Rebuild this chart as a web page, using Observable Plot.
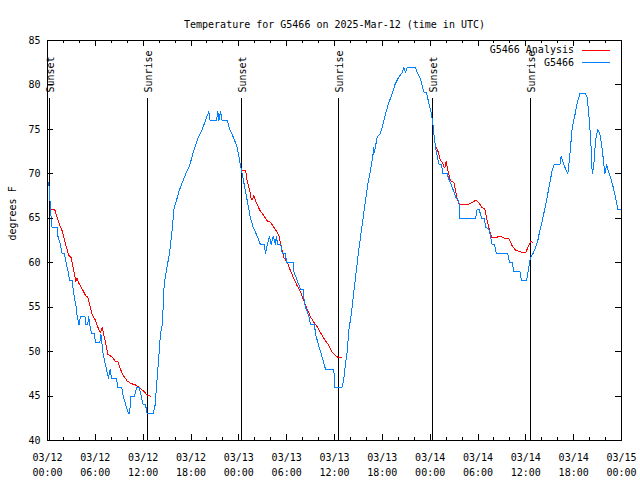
<!DOCTYPE html>
<html>
<head>
<meta charset="utf-8">
<script src="https://cdn.jsdelivr.net/npm/d3@7"></script>
<script src="https://cdn.jsdelivr.net/npm/@observablehq/plot@0.6"></script>
<style>
  html, body { margin: 0; padding: 0; background: #fff; }
  svg { display: block; }
</style>
</head>
<body>
<div id="chart"></div>
<script>
// ---------- data (hours after 2025-03-12 00:00 UTC) ----------
const titleText = "Temperature for G5466 on 2025-Mar-12 (time in UTC)";
const yLabel = "degrees F";
const seriesNames = ["G5466 Analysis", "G5466"];
const seriesColors = ["#ff0000", "#0080ff"];

const blueHours = [0.15,0.25,0.38,0.55,1.21,1.3,1.63,1.84,2.13,2.34,2.59,2.76,3.09,3.22,3.39,3.6,3.72,3.95,4.15,4.7,4.8,5.05,5.15,5.3,5.55,5.9,6.0,6.56,6.7,6.94,7.15,7.4,7.65,7.85,8.05,8.66,8.82,9.3,9.5,9.82,10.15,10.3,10.45,10.9,11.2,11.5,11.75,12.0,12.3,12.5,13.26,13.5,13.67,13.84,14.01,14.17,14.38,14.51,14.59,14.72,14.89,15.09,15.3,15.43,15.55,15.68,15.84,16.18,16.47,16.9,17.35,17.85,18.15,18.48,18.86,19.4,19.82,20.23,20.4,21.2,21.37,21.5,21.7,21.9,22.54,22.87,23.37,23.79,24.0,24.2,24.42,24.63,24.84,25.05,25.26,25.46,25.8,26.3,26.72,27.2,27.35,27.56,27.85,28.06,28.31,28.6,28.69,28.89,29.31,29.44,29.85,29.98,30.82,30.9,31.32,31.74,32.07,32.16,32.36,32.78,32.99,33.49,33.62,33.91,34.24,34.58,34.87,35.91,36.04,36.96,37.17,37.38,37.59,37.8,38.1,38.35,38.64,38.93,39.26,39.6,39.89,40.18,40.52,40.81,40.93,41.0,41.35,41.7,41.98,42.19,42.52,42.81,43.24,43.56,44.07,44.49,44.7,44.9,45.12,46.16,46.37,46.79,47.21,47.5,47.83,48.17,48.38,48.46,48.67,48.88,49.09,49.3,49.45,49.55,50.13,50.34,50.55,50.84,51.09,51.3,51.6,51.72,53.69,53.9,54.15,54.44,54.82,54.94,55.36,55.57,55.78,56.07,56.32,57.74,57.95,58.29,58.49,59.25,59.46,60.09,60.3,60.59,60.88,61.21,61.5,61.75,62.06,62.34,62.68,63.01,63.31,63.51,64.27,64.44,64.77,65.27,65.48,65.82,66.11,66.45,66.77,66.98,67.49,67.7,67.9,68.12,68.24,68.33,68.53,68.74,69.03,69.28,69.58,69.78,69.91,70.12,70.33,70.62,70.96,71.25,71.54,72.0];
const blueTemps = [69,68,66,64,64,63,62,61,61,60,59,58,58,57,56,55,54,53,54,54,53,53,54,53,52,52,51,51,52,50,49,48,47,48,47,47,46,46,45,44,43,43,45,45,46,46,45,44,44,43,43,44,46,48,50,52,53,55,57,58,59,60,61,62,63,64,66,67,68,69,70,71,72,73,74,75,76,77,76,76,77,76,77,76,76,75,74,73,72,71,70,69,68,67,66,65,64,63,62,62,61,62,63,62,63,62,63,62,62,61,61,60,60,59,58,57,57,56,55,54,53,53,52,51,50,49,48,48,46,46,47,48.6,50,52.4,54.2,56.1,58.4,60.6,62.9,65.1,67,68.9,70.4,72,73,72.4,74.1,74.5,75.2,76,77.1,78,79,80,80.9,81.4,82,81.4,82,82,81.4,80.7,79.2,79.2,78,76.7,75.4,74.5,73,72,71.1,71,71.1,70,70,69.4,69,68.3,67.7,67.2,67,65,65,66,66,65,65,64,63.8,63,62,62,61,61,60,60,59,59,58,58,59.1,60.6,61,61.7,62.5,63.6,64.7,65.9,67.4,69,70.4,71,71,72,71,70,71.7,75.2,76.4,78,79,79,79,78.6,76.7,74.1,71.9,70,71,73.7,75,74.5,72.8,71.1,70,71,70.4,69.6,68.5,67.4,66,66];

const redRuns  = [0,0,0,0,0,0,0,0,0,0,0,0,0,0,0,0,0,0,0,0,0,0,0,0,0,0,0,0,0,0,0,0,0,
                  1,1,1,1,1,1,1,1,1,1,1,1,1,1,1,1,1,1,1,1,1,1,1,1,1,1,1,1,1,1,1,1,1,1,1,
                  2,2,2,2,2,2,2,2,2,2,2,2,2,2,2,2,2,2,2,2,2,2,2,2,2,2,2,2,2,2,2,2,2,2,2,2,2,2,2,2,2];
const redHours = [0.38,0.9,1.21,1.63,1.84,2.26,2.68,2.97,3.3,3.55,3.7,3.93,4.35,4.77,5.06,5.6,6.02,6.5,6.65,6.86,7.27,7.57,8.11,8.53,8.82,9.37,9.99,10.5,11.04,11.58,12.08,12.5,12.9,
                  24.42,24.84,25.05,25.38,25.55,25.7,25.88,26.09,26.63,27.14,27.56,27.97,28.39,28.81,29.02,29.23,29.44,29.64,30.07,30.48,30.9,31.32,31.74,32.16,32.57,32.99,33.41,33.91,34.33,34.87,35.29,35.71,36.13,36.54,36.88,
                  48.67,48.88,49.09,49.3,49.51,49.72,49.85,50.01,50.22,50.55,50.97,51.18,51.39,51.6,51.81,52.22,52.85,53.27,53.69,53.95,54.31,54.52,54.85,55.06,55.36,55.57,55.78,56.19,56.48,57.03,57.45,57.87,58.29,58.71,59.21,59.75,59.96,60.26,60.5,60.59,60.88];
const redTemps = [66,66,65.1,64,63.6,62.1,60.8,60.6,59.1,57.9,58.3,57.7,57.05,56.3,56.1,54.2,53.5,52.3,52.1,52.7,51.05,49.7,49.4,48.9,48.9,47.5,46.7,46.4,46.25,45.9,45.55,45.1,45,
                  70.4,70.4,69.2,68.1,67.2,67.1,67.6,67,65.9,65.3,64.7,64.55,64,63.4,63.05,62.1,61.4,60.6,60.05,59.1,58.2,57.4,56.7,55.7,54.8,53.9,53.3,52.7,52,51.2,50.7,49.9,49.55,49.3,49.3,
                  73,72.8,72.2,71.5,71.3,70.8,70.7,71.4,70.4,69.2,69.05,68.1,67.2,66.6,66.5,66.5,66.6,66.8,67,66.9,66.5,66.2,66.05,65.1,64,63.2,62.8,62.8,62.9,62.9,62.7,62.7,61.9,61.4,61.25,61.1,61.1,61.7,62.2,62.4,62.3];

const eventHours  = [0.25, 12.56, 24.29, 36.52, 48.28, 60.56];
const eventLabels = ["Sunset", "Sunrise", "Sunset", "Sunrise", "Sunset", "Sunrise"];

const yTicks = [40, 45, 50, 55, 60, 65, 70, 75, 80, 85];
const majorTickHours = [0,6,12,18,24,30,36,42,48,54,60,66,72];
const minorTickHours = [2,4,8,10,14,16,20,22,26,28,32,34,38,40,44,46,50,52,56,58,62,64,68,70];

// ---------- build ----------
const t0 = Date.UTC(2025, 2, 12);
const toDate = h => new Date(t0 + h * 3600e3);

const blue = blueHours.map((h, i) => ({t: toDate(h), v: blueTemps[i]}));
const red = redHours.map((h, i) => ({t: toDate(h), v: redTemps[i], run: redRuns[i]}));
const events = eventHours.map((h, i) => ({t: toDate(h), label: eventLabels[i]}));
const majors = majorTickHours.map(toDate);
const minors = minorTickHours.map(toDate);

const W = 640, H = 480, mL = 47, mR = 19, mT = 40, mB = 40;
const fw = W - mL - mR, fh = H - mT - mB;
const fmt = d3.utcFormat("%m/%d\n%H:%M");

const plot = Plot.plot({
  width: W, height: H,
  marginLeft: mL, marginRight: mR, marginTop: mT, marginBottom: mB,
  style: {fontFamily: "'DejaVu Sans Mono', monospace", fontSize: "10px", background: "#fff", color: "#000"},
  x: {type: "utc", domain: [toDate(0), toDate(72)], axis: null},
  y: {domain: [40, 85], axis: null},
  marks: [
    // event (sunrise/sunset) lines
    Plot.ruleX(events, {x: "t", stroke: "#000", strokeWidth: 1, insetTop: 58}),
    Plot.text(events, {x: "t", text: "label", frameAnchor: "top", dy: 52, dx: 1.5,
      rotate: -90, textAnchor: "start", lineAnchor: "middle", fill: "#000"}),
    // data
    Plot.line(red, {x: "t", y: "v", z: "run", stroke: seriesColors[0], strokeWidth: 1}),
    Plot.line(blue, {x: "t", y: "v", stroke: seriesColors[1], strokeWidth: 1}),
    // ticks (inward, mirrored)
    Plot.tickX(majors, {x: d => d, insetTop: fh - 6, stroke: "#000"}),
    Plot.tickX(majors, {x: d => d, insetBottom: fh - 6, stroke: "#000"}),
    Plot.tickX(minors, {x: d => d, insetTop: fh - 3, stroke: "#000"}),
    Plot.tickX(minors, {x: d => d, insetBottom: fh - 3, stroke: "#000"}),
    Plot.tickY(yTicks, {y: d => d, insetRight: fw - 6, stroke: "#000"}),
    Plot.tickY(yTicks, {y: d => d, insetLeft: fw - 6, stroke: "#000"}),
    Plot.frame({stroke: "#000"}),
    // tick labels
    Plot.text(majors, {x: d => d, text: d => fmt(d), frameAnchor: "bottom", dy: 23.5,
      lineAnchor: "middle", lineHeight: 1.5, fill: "#000"}),
    Plot.text(yTicks, {y: d => d, text: d => String(d), frameAnchor: "left", dx: -7,
      textAnchor: "end", fill: "#000"}),
    // axis label & title
    Plot.text([yLabel], {frameAnchor: "left", dx: -35, rotate: -90, fill: "#000"}),
    Plot.text([titleText], {frameAnchor: "top", dy: -20, fill: "#000"})
  ]
});

plot.setAttribute("shape-rendering", "crispEdges");

// legend (top-right, inside the frame)
const svg = d3.select(plot);
const lg = svg.append("g").attr("font-family", "'DejaVu Sans Mono', monospace").attr("font-size", 10);
seriesNames.forEach((name, i) => {
  const y = 50 + i * 12.5;
  lg.append("text").attr("x", W - mR - 47).attr("y", y).attr("dy", "0.32em")
    .attr("text-anchor", "end").attr("fill", "#000").text(name);
  lg.append("line").attr("x1", W - mR - 39).attr("x2", W - mR - 11)
    .attr("y1", y).attr("y2", y).attr("stroke", seriesColors[i]).attr("stroke-width", 1);
});

document.getElementById("chart").appendChild(plot);
</script>
</body>
</html>
